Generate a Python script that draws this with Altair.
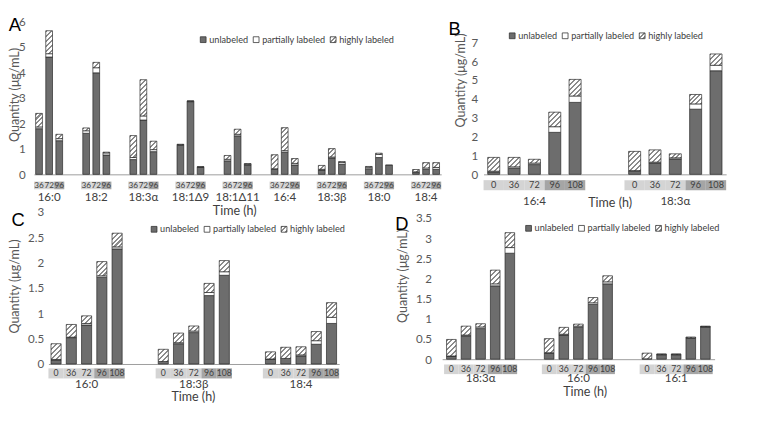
import math
import json
import altair as alt

FONT = "Lato, 'Open Sans', 'DejaVu Sans', sans-serif"
LETTER_FONT = "'Liberation Sans', Arial, sans-serif"
INK = '#404040'
TICK_INK = '#595959'
UNL_COLOR = '#6d6d6d'
PART_COLOR = '#ffffff'
HATCH_INK = '#8c8c8c'
EARLY_BOX = '#d4d4d4'
LATE_BOX = '#a5a5a5'
CATS = ['unlabeled', 'partially labeled', 'highly labeled']

# ---------------- data (segment amounts, µg/mL) ----------------
A_GROUPS = ["16:0", "18:2", "18:3α", "18:1Δ9", "18:1Δ11", "16:4", "18:3β", "18:0", "18:4"]
A_TIMES = ["36", "72", "96"]
A_LATE = ["96"]
A_UNL = [1.79, 4.60, 1.32, 1.61, 3.98, 0.76, 0.58, 2.13, 0.89, 1.14, 2.85, 0.27, 0.53, 1.51, 0.37,
         0.19, 0.87, 0.37, 0.17, 0.64, 0.40, 0.22, 0.66, 0.35, 0.07, 0.19, 0.20]
A_PART = [0.07, 0.13, 0.08, 0.10, 0.20, 0.08, 0.08, 0.16, 0.08, 0.02, 0.02, 0.02, 0.06, 0.06, 0.03,
          0.03, 0.06, 0.06, 0.03, 0.04, 0.07, 0.06, 0.12, 0.02, 0.03, 0.06, 0.07]
A_HIGH = [0.53, 0.90, 0.17, 0.11, 0.21, 0.03, 0.86, 1.42, 0.33, 0.02, 0.01, 0.01, 0.15, 0.20, 0.02,
          0.55, 0.90, 0.19, 0.15, 0.33, 0.03, 0.03, 0.05, 0.00, 0.09, 0.21, 0.19]

B_GROUPS = ["16:4", "18:3α"]
BCD_TIMES = ["0", "36", "72", "96", "108"]
BCD_LATE = ["96", "108"]
B_UNL = [0.12, 0.33, 0.52, 2.23, 3.82, 0.16, 0.60, 0.82, 3.46, 5.50]
B_PART = [0.05, 0.07, 0.08, 0.30, 0.34, 0.04, 0.05, 0.06, 0.28, 0.29]
B_HIGH = [0.73, 0.50, 0.20, 0.77, 0.88, 1.02, 0.65, 0.21, 0.50, 0.60]

C_GROUPS = ["16:0", "18:3β", "18:4"]
C_UNL = [0.08, 0.52, 0.77, 1.71, 2.27, 0.05, 0.40, 0.62, 1.35, 1.75, 0.09, 0.11, 0.16, 0.39, 0.80]
C_PART = [0.01, 0.01, 0.03, 0.03, 0.04, 0.00, 0.02, 0.03, 0.06, 0.07, 0.01, 0.00, 0.02, 0.07, 0.12]
C_HIGH = [0.31, 0.25, 0.15, 0.28, 0.27, 0.24, 0.19, 0.10, 0.18, 0.22, 0.14, 0.22, 0.16, 0.18, 0.29]

D_GROUPS = ["18:3α", "16:0", "16:1"]
D_UNL = [0.07, 0.58, 0.76, 1.82, 2.63, 0.15, 0.60, 0.79, 1.36, 1.87, 0.00, 0.11, 0.11, 0.52, 0.80]
D_PART = [0.01, 0.02, 0.04, 0.05, 0.14, 0.01, 0.02, 0.03, 0.04, 0.05, 0.01, 0.01, 0.01, 0.01, 0.01]
D_HIGH = [0.41, 0.22, 0.08, 0.34, 0.37, 0.35, 0.17, 0.05, 0.13, 0.15, 0.14, 0.01, 0.01, 0.02, 0.01]


def hatch(w, h, period=3.6, stripe=1.5):
    """Diagonal '/' stripes as a bounding-box linear gradient for a w x h px box."""
    k = (w + h) / (w * w + h * h)
    a, b = w * k, h * k
    n = (w + h) / math.sqrt(2) / period
    stops = []
    i = 0
    while i / n < 1:
        s = i / n
        e = min((i + stripe / period) / n, 1.0)
        nx = min((i + 1) / n, 1.0)
        stops += [{'offset': round(s, 4), 'color': HATCH_INK},
                  {'offset': round(e, 4), 'color': HATCH_INK},
                  {'offset': round(e, 4), 'color': '#ffffff'},
                  {'offset': round(nx, 4), 'color': '#ffffff'}]
        i += 1
    return {'gradient': 'linear', 'x1': 0, 'y1': 0, 'x2': round(a, 4), 'y2': round(b, 4), 'stops': stops}


HATCH_EXPR = json.dumps(hatch(6, 6, period=3.2, stripe=1.3))


def panel(groups, times, late, unl, part, high, *, width, height, ymax, yticks, x_range,
          gap_slots, lead_slots, bar_w, box_top, box_bot, box_font, grp_dy, y_axis_offset,
          label_pad, ytitle_x, ytitle_y, xtitle_x, xtitle_y, letter, letter_x, letter_y,
          legend_x, legend_y):
    nt = len(times)
    pitch = nt + gap_slots                      # group pitch, in time-slot units
    total = len(groups) * pitch - gap_slots + 2 * lead_slots
    ppu = height / ymax

    bars, boxes = [], []
    for gi, g in enumerate(groups):
        for ti, t in enumerate(times):
            i = gi * nt + ti
            start = lead_slots + gi * pitch + ti
            boxes.append({'grp': g, 'time': t, 'late': t in late,
                          'pos': start + 0.5, 'p0': start, 'p1': start + 1})
            lo = 0.0
            for kind, v in (('u', unl[i]), ('p', part[i]), ('h', high[i])):
                if v <= 0:
                    continue
                hi = lo + v
                if kind == 'u':
                    paint = UNL_COLOR
                elif kind == 'p':
                    paint = PART_COLOR
                else:
                    paint = hatch(bar_w, v * ppu)
                bars.append({'grp': g, 'time': t, 'pos': start + 0.5,
                             'lo': round(lo, 4), 'hi': round(hi, 4), 'paint': paint})
                lo = hi
    grp_rows = [{'grp': g, 'pos': lead_slots + gi * pitch + nt / 2} for gi, g in enumerate(groups)]

    xscale = alt.Scale(domain=[0, total], range=x_range, nice=False, zero=False, padding=0)
    xaxis = alt.Axis(labels=False, ticks=False, domain=True, domainColor='#9a9a9a', domainWidth=1,
                     grid=False, title='Time (h)', titleFont=FONT, titleFontSize=13,
                     titleFontWeight='normal', titleColor=INK, titleX=xtitle_x, titleY=xtitle_y,
                     titleBaseline='middle')

    def xenc(field):
        return alt.X(field, type='quantitative', scale=xscale, axis=xaxis)

    y = alt.Y('lo:Q', scale=alt.Scale(domain=[0, ymax], nice=False, zero=True, padding=0),
              axis=alt.Axis(values=yticks, format='~g', domain=False, ticks=False, grid=False,
                            labelFont=FONT, labelFontSize=12, labelColor=TICK_INK, labelPadding=label_pad,
                            labelFlush=False, labelOverlap=False, offset=y_axis_offset,
                            title='Quantity (μg/mL)', titleFont=FONT, titleFontSize=13,
                            titleFontWeight='normal', titleColor=TICK_INK, titleX=ytitle_x,
                            titleY=ytitle_y, titleBaseline='middle'))

    box_layer = alt.Chart(alt.Data(values=boxes)).transform_calculate(
        shade=f"datum.late ? '{LATE_BOX}' : '{EARLY_BOX}'"
    ).mark_rect().encode(
        x=xenc('p0'), x2='p1:Q',
        y=alt.value(height + box_top), y2=alt.value(height + box_bot),
        fill=alt.Fill('shade:N', scale=None))

    bar_layer = alt.Chart(alt.Data(values=bars)).mark_bar(
        width=bar_w, stroke='#262626', strokeWidth=0.7
    ).encode(x=xenc('pos'), y=y, y2='hi:Q', fill=alt.Fill('paint:N', scale=None))

    box_text = alt.Chart(alt.Data(values=boxes)).mark_text(
        font=FONT, fontSize=box_font, color=INK, baseline='middle'
    ).encode(x=xenc('pos'), y=alt.value(height + (box_top + box_bot) / 2), text='time:N')

    grp_text = alt.Chart(alt.Data(values=grp_rows)).mark_text(
        font=FONT, fontSize=12, color=INK, baseline='middle'
    ).encode(x=xenc('pos'), y=alt.value(height + grp_dy), text='grp:N')

    letter_layer = alt.Chart(alt.Data(values=[{'t': letter}])).mark_text(
        font=LETTER_FONT, fontSize=19, color='#000000', baseline='middle', align='center'
    ).encode(x=alt.value(letter_x), y=alt.value(letter_y), text='t:N')

    legend_layer = alt.Chart(alt.Data(values=[{'cat': c} for c in CATS])).mark_square(
        opacity=0, stroke='#333333'
    ).encode(color=alt.Color('cat:N',
                             scale=alt.Scale(domain=CATS, range=[UNL_COLOR, PART_COLOR, {'expr': HATCH_EXPR}]),
                             legend=alt.Legend(title=None, orient='none', legendX=legend_x, legendY=legend_y,
                                               direction='horizontal', symbolType='square', symbolSize=36,
                                               symbolStrokeColor='#333333', symbolStrokeWidth=0.8,
                                               symbolOpacity=1, labelFont=FONT, labelFontSize=9.5,
                                               labelColor=INK, labelOffset=1.5, columnPadding=3,
                                               padding=0, rowPadding=0)))

    return alt.layer(box_layer, bar_layer, box_text, grp_text, letter_layer, legend_layer).properties(
        width=width, height=height)


# Grid: column 1 views start at x=50, column 2 views at x=502; row 1 at y=14, row 2 at y=212.
A = panel(A_GROUPS, A_TIMES, A_LATE, A_UNL, A_PART, A_HIGH,
          width=408, height=159, ymax=6, yticks=[0, 1, 2, 3, 4, 5, 6], x_range=[-15, 408],
          gap_slots=1.666, lead_slots=0, bar_w=7, box_top=7.5, box_bot=15.5, box_font=8.5, grp_dy=24,
          y_axis_offset=15, label_pad=9, ytitle_x=-20, ytitle_y=76, xtitle_x=193, xtitle_y=38,
          letter='A', letter_x=-35, letter_y=4, legend_x=156, legend_y=14)

B = panel(B_GROUPS, BCD_TIMES, BCD_LATE, B_UNL, B_PART, B_HIGH,
          width=252, height=159, ymax=8.124, yticks=[0, 1, 2, 3, 4, 5, 6, 7], x_range=[0, 252],
          gap_slots=1.927, lead_slots=0, bar_w=12.5, box_top=6, box_bot=16.5, box_font=9.5, grp_dy=28,
          y_axis_offset=0, label_pad=6, ytitle_x=-24, ytitle_y=61, xtitle_x=131, xtitle_y=29,
          letter='B', letter_x=-30, letter_y=8, legend_x=25, legend_y=10)

C = panel(C_GROUPS, BCD_TIMES, BCD_LATE, C_UNL, C_PART, C_HIGH,
          width=408, height=158, ymax=3, yticks=[0, 0.5, 1, 1.5, 2, 2.5, 3], x_range=[0, 302],
          gap_slots=2.025, lead_slots=0, bar_w=10.5, box_top=4.5, box_bot=15, box_font=9, grp_dy=21,
          y_axis_offset=0, label_pad=5, ytitle_x=-35, ytitle_y=77, xtitle_x=150, xtitle_y=34,
          letter='C', letter_x=-31.5, letter_y=9, legend_x=105, legend_y=13)

D = panel(D_GROUPS, BCD_TIMES, BCD_LATE, D_UNL, D_PART, D_HIGH,
          width=240, height=153, ymax=3.655, yticks=[0, 0.5, 1, 1.5, 2, 2.5, 3, 3.5], x_range=[-43, 240],
          gap_slots=1.69, lead_slots=0.13, bar_w=10, box_top=5.5, box_bot=15.5, box_font=9, grp_dy=20,
          y_axis_offset=43, label_pad=11, ytitle_x=-41, ytitle_y=66, xtitle_x=105, xtitle_y=34,
          letter='D', letter_x=-85, letter_y=13, legend_x=42, legend_y=12)

chart = alt.concat(A, B, C, D, columns=2, spacing={'row': 39, 'column': 44},
                   bounds='flush').resolve_scale(
    color='independent').resolve_legend(color='independent').configure_view(
    stroke=None).properties(padding=0, background='white')

chart.save("out.html", embed_options={"renderer": "svg", "actions": False})
